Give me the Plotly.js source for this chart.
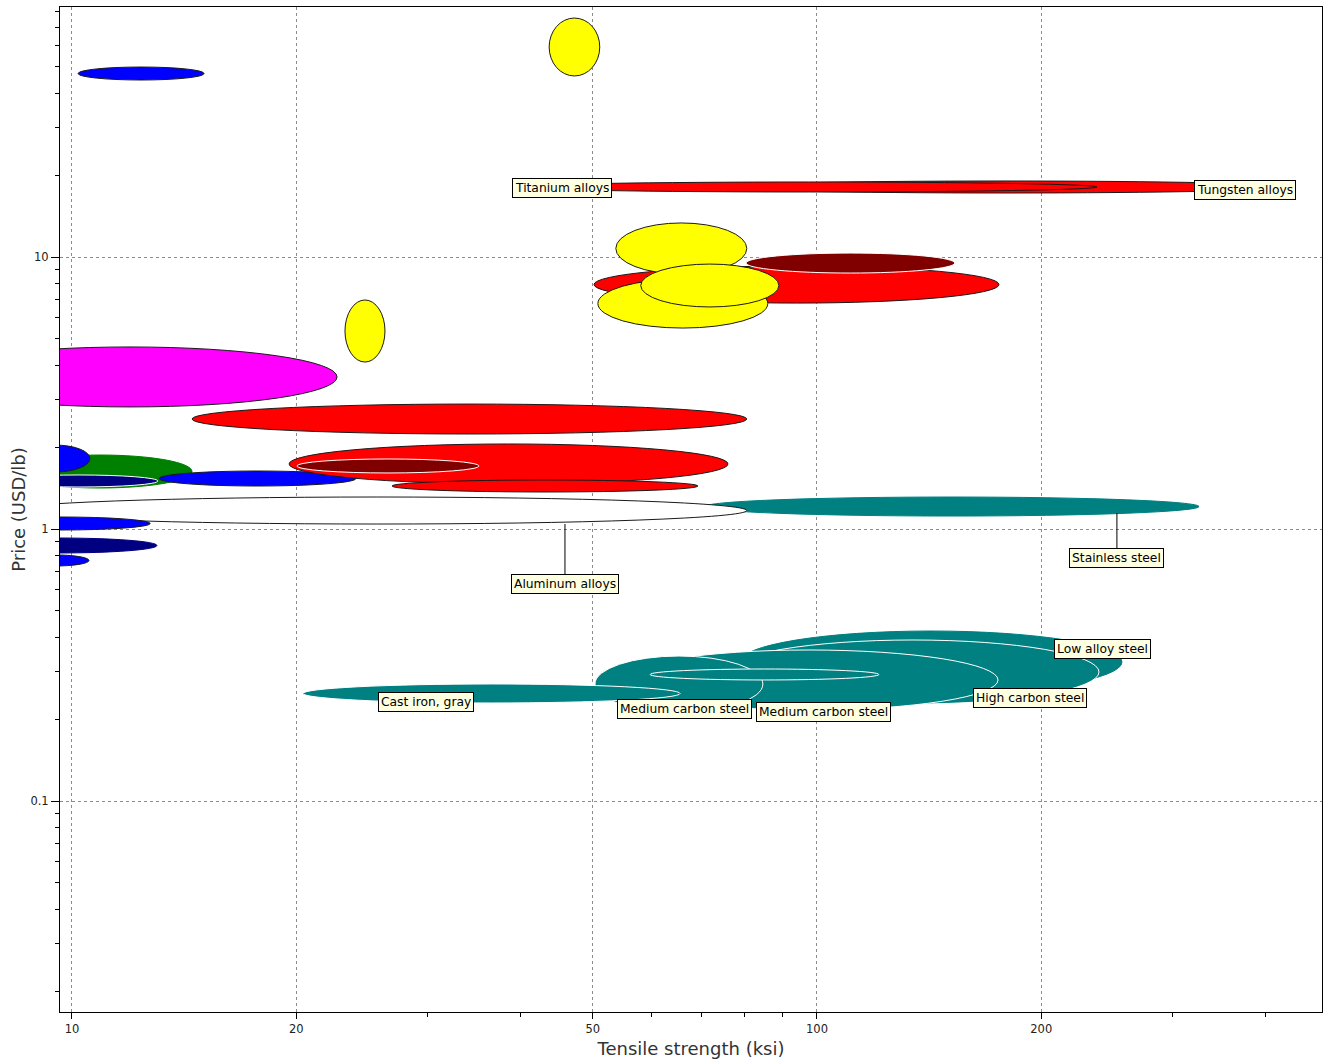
<!DOCTYPE html>
<html>
<head>
<meta charset="utf-8">
<script src="https://cdn.plot.ly/plotly-3.0.1.min.js"></script>
<style>
  html, body { margin: 0; padding: 0; background: #fff; }
  #chart { width: 1323px; height: 1063px; }
</style>
</head>
<body>
<div id="chart"></div>
<script>
// ---------- DATA ----------
// Material bubbles: tensile strength range (ksi) and price range (USD/lb)
const materials = [
  "Material A (blue)", "Material B (yellow)", "Tungsten alloys", "Titanium alloys",
  "Material C (red)", "Material D (dark red)", "Material E (yellow)", "Material F (yellow)",
  "Material G (yellow)", "Material H (yellow)", "Material I (magenta)", "Material J (red)",
  "Material K (green)", "Material L (blue)", "Material M (navy)", "Material N (blue)",
  "Material O (red)", "Material P (dark red)", "Material Q (red)", "Stainless steel",
  "Aluminum alloys", "Material R (blue)", "Material S (navy)", "Material T (blue)",
  "Low alloy steel", "Low alloy steel (2)", "High carbon steel", "Medium carbon steel",
  "Medium carbon steel (2)", "Cast iron, gray"
];
const strengthMin = [10.19, 43.7, 74.1, 39.94, 50.2, 80.3, 53.7, 50.8, 58.0, 23.25, 6.31, 14.49,
  8.20, 8.52, 8.0, 13.09, 19.56, 20.05, 26.89, 70.7, 8.18, 7.30, 7.07, 8.52,
  78.8, 75.7, 54.4, 50.35, 59.7, 20.42];
const strengthMax = [15.04, 51.1, 431.4, 237.6, 175.5, 153.1, 80.5, 85.9, 88.9, 26.31, 22.69, 80.5,
  14.49, 10.57, 13.04, 24.05, 75.96, 35.18, 69.22, 325.7, 80.5, 12.73, 13.0, 10.54,
  256.7, 239.1, 175.0, 84.6, 121.1, 65.5];
const priceMin = [44.74, 46.3, 17.19, 17.34, 6.77, 8.73, 8.66, 5.48, 6.55, 4.11, 2.81, 2.235,
  1.415, 1.620, 1.427, 1.439, 1.464, 1.607, 1.368, 1.116, 1.043, 0.9916, 0.8163, 0.731,
  0.2494, 0.2273, 0.2161, 0.2124, 0.2786, 0.2293];
const priceMax = [49.94, 75.6, 19.03, 18.87, 9.27, 10.34, 13.34, 8.30, 9.42, 6.95, 4.67, 2.88,
  1.871, 2.035, 1.58, 1.634, 2.054, 1.809, 1.514, 1.311, 1.311, 1.107, 0.9266, 0.803,
  0.4217, 0.3908, 0.3591, 0.3412, 0.3057, 0.2693];

// Labels
const labelText = ["Titanium alloys", "Tungsten alloys", "Aluminum alloys", "Stainless steel",
  "Low alloy steel", "Cast iron, gray", "Medium carbon steel", "Medium carbon steel", "High carbon steel"];
const labelStrength = [45.47, 375.4, 45.89, 252.7, 242.0, 29.87, 66.3, 101.9, 193.1];
const labelPrice = [17.94, 17.63, 1.043, 1.145, 0.3621, 0.2312, 0.2180, 0.2125, 0.2391];

// Axis ticks
const xTickVals = [10, 20, 50, 100, 200];
const xTickText = ["10", "20", "50", "100", "200"];
const xMinorVals = [30, 40, 60, 70, 80, 90, 300, 400];
const yTickVals = [0.1, 1, 10];
const yTickText = ["0.1", "1", "10"];
const yMinorVals = [0.02, 0.03, 0.04, 0.05, 0.06, 0.07, 0.08, 0.09,
  0.2, 0.3, 0.4, 0.5, 0.6, 0.7, 0.8, 0.9, 2, 3, 4, 5, 6, 7, 8, 9,
  20, 30, 40, 50, 60, 70, 80];

// ---------- STYLES ----------
const BLUE = "#0000ff", NAVY = "#000080", GREEN = "#008000", RED = "#ff0000",
      DRED = "#800000", YEL = "#ffff00", MAG = "#ff00ff", TEAL = "#008080", WHITE = "#ffffff";
const fillColors = [BLUE, YEL, RED, RED, RED, DRED, YEL, YEL, YEL, YEL, MAG, RED,
  GREEN, BLUE, NAVY, BLUE, RED, DRED, RED, TEAL, WHITE, BLUE, NAVY, BLUE,
  TEAL, TEAL, TEAL, TEAL, TEAL, TEAL];
const DK = "#1a1a1a";
const lineColors = [DK, DK, DK, DK, DK, WHITE, DK, DK, DK, DK, DK, DK,
  GREEN, DK, WHITE, DK, DK, WHITE, DK, TEAL, DK, DK, NAVY, DK,
  TEAL, WHITE, WHITE, WHITE, WHITE, WHITE];
// leader-line offsets (px) for labels that have one; 0 = no leader
const labelLeader = [0, 0, 60, 45, 0, 0, 0, 0, 0];

const shapes = materials.map((m, i) => ({
  type: "circle", xref: "x", yref: "y",
  x0: strengthMin[i], x1: strengthMax[i], y0: priceMin[i], y1: priceMax[i],
  fillcolor: fillColors[i],
  line: { color: lineColors[i], width: 1 },
  layer: "above"
}));

const annotations = labelText.map((t, i) => {
  const a = {
    text: t, xref: "x", yref: "y",
    x: Math.log10(labelStrength[i]), y: Math.log10(labelPrice[i]),
    bgcolor: "#ffffe1", bordercolor: "#000", borderwidth: 1, borderpad: 2,
    font: { family: "DejaVu Sans", size: 12.3, color: "#000" },
    showarrow: false
  };
  if (labelLeader[i]) {
    a.showarrow = true; a.arrowhead = 0; a.arrowwidth = 1; a.arrowcolor = "#000";
    a.ax = 0; a.ay = labelLeader[i]; a.standoff = 0; a.startstandoff = 0;
  }
  return a;
});

const tickFont = { family: "DejaVu Sans", size: 11.5, color: "#222" };
const titleFont = { family: "DejaVu Sans", size: 18, color: "#333" };

const layout = {
  width: 1323, height: 1063,
  margin: { l: 60, r: 1, t: 7, b: 51 },
  paper_bgcolor: "#fff", plot_bgcolor: "#fff",
  showlegend: false,
  xaxis: {
    type: "log", range: [0.9839, 2.6779],
    tickmode: "array", tickvals: xTickVals, ticktext: xTickText,
    ticks: "outside", ticklen: 6, tickcolor: "#000", tickwidth: 1,
    tickfont: tickFont,
    showgrid: true, gridcolor: "#8c8c8c", griddash: "3px,3px", gridwidth: 1,
    zeroline: false,
    showline: true, linecolor: "#000", linewidth: 1, mirror: true,
    minor: { tickmode: "array", tickvals: xMinorVals, ticks: "outside", ticklen: 4, tickcolor: "#000", showgrid: false },
    title: { text: "Tensile strength (ksi)", font: titleFont, standoff: 7 },
    fixedrange: true
  },
  yaxis: {
    type: "log", range: [-1.7757, 1.9191],
    tickmode: "array", tickvals: yTickVals, ticktext: yTickText,
    ticks: "outside", ticklen: 8, tickcolor: "#000", tickwidth: 1,
    tickfont: tickFont,
    showgrid: true, gridcolor: "#8c8c8c", griddash: "3px,3px", gridwidth: 1,
    zeroline: false,
    showline: true, linecolor: "#000", linewidth: 1, mirror: true,
    minor: { tickmode: "array", tickvals: yMinorVals, ticks: "outside", ticklen: 4, tickcolor: "#000", showgrid: false },
    title: { text: "Price (USD/lb)", font: titleFont, standoff: 0 },
    fixedrange: true
  },
  shapes: shapes,
  annotations: annotations
};

// an invisible trace so the axes exist
const traces = [{
  type: "scatter", mode: "markers",
  x: strengthMin, y: priceMin,
  marker: { opacity: 0, size: 1 }, hoverinfo: "skip", showlegend: false
}];

Plotly.newPlot("chart", traces, layout, { displayModeBar: false, staticPlot: true });
</script>
</body>
</html>
